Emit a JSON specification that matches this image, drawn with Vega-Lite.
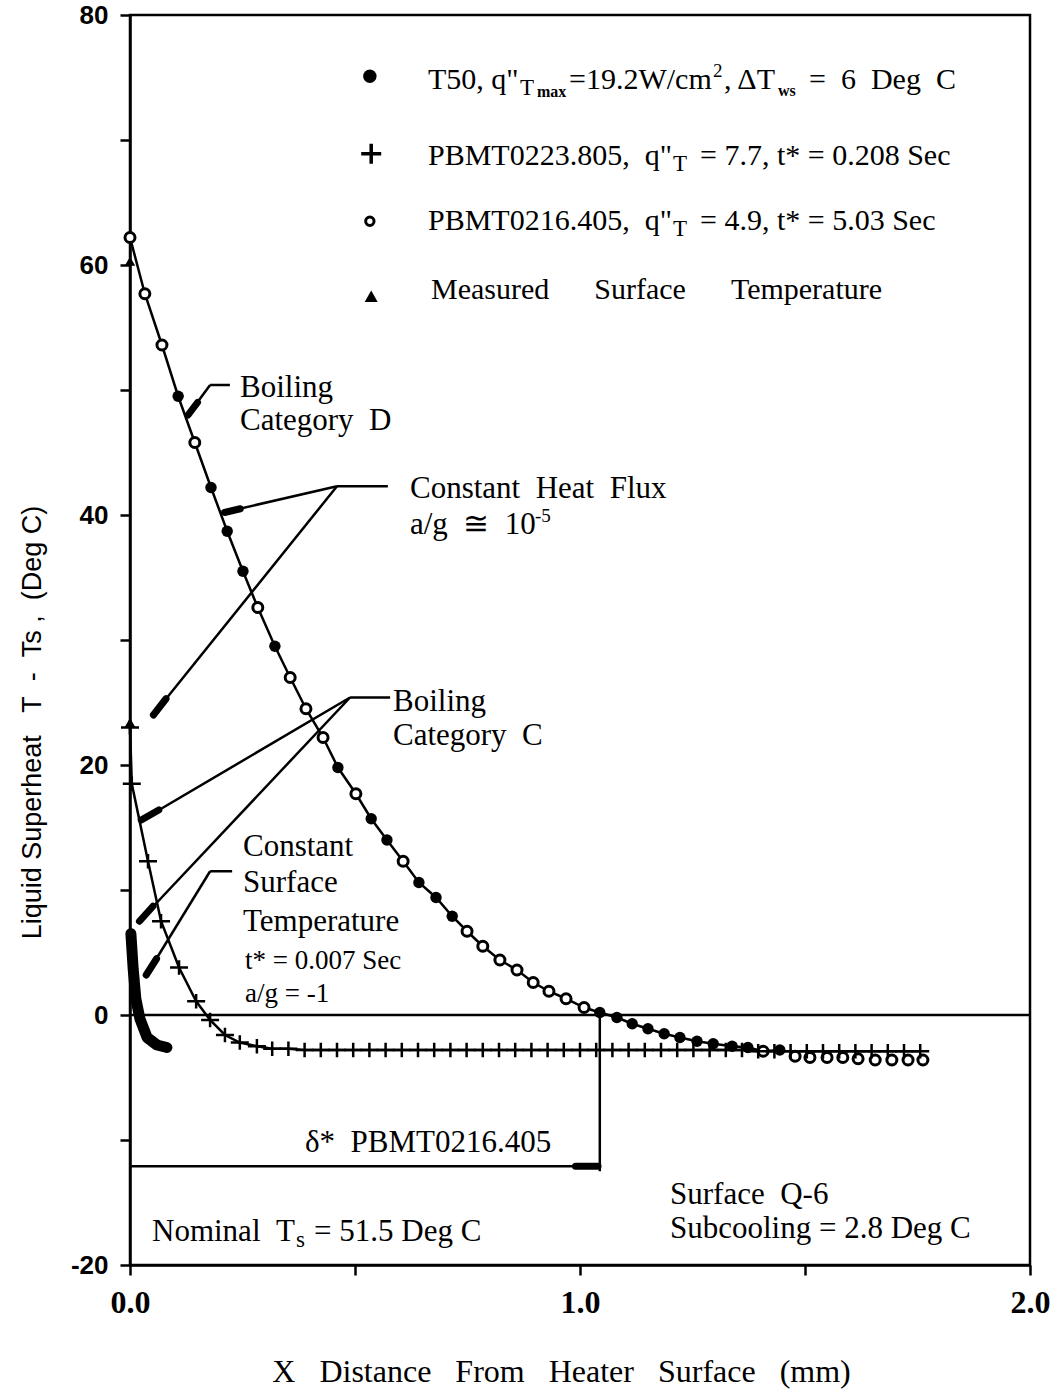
{
 "$schema": "https://vega.github.io/schema/vega-lite/v6.json",
 "width": 900,
 "height": 1250,
 "autosize": {"type": "none"},
 "padding": {"left": 130, "top": 15, "right": 25, "bottom": 126},
 "background": "white",
 "config": {
   "view": {"stroke": "black", "strokeWidth": 2.5},
   "axis": {"grid": false, "domainColor": "black", "domainWidth": 2.5, "tickColor": "black", "tickWidth": 2.5, "tickSize": 10, "labelColor": "black", "titleColor": "black"}
 },
 "datasets": {
   "leaders": [
     {"x":0,"y":0,"x2":2,"y2":0},
     {"x":0.222,"y":50.4,"x2":0.178,"y2":50.4},
     {"x":0.178,"y":50.4,"x2":0.127,"y2":47.9},
     {"x":0.573,"y":42.3,"x2":0.46,"y2":42.3},
     {"x":0.46,"y":42.3,"x2":0.207,"y2":40.2},
     {"x":0.46,"y":42.3,"x2":0.049,"y2":23.9},
     {"x":0.578,"y":25.4,"x2":0.489,"y2":25.4},
     {"x":0.489,"y":25.4,"x2":0.022,"y2":15.5},
     {"x":0.489,"y":25.4,"x2":0.018,"y2":7.4},
     {"x":0.227,"y":11.5,"x2":0.178,"y2":11.5},
     {"x":0.178,"y":11.5,"x2":0.033,"y2":3.0},
     {"x":0,"y":-12.1,"x2":1.044,"y2":-12.1},
     {"x":1.044,"y":0,"x2":1.044,"y2":-12.5}
   ],
   "arrowheads": [
     {"x":0.150,"y":49.0,"x2":0.129,"y2":48.0},
     {"x":0.245,"y":40.5,"x2":0.21,"y2":40.2},
     {"x":0.08,"y":25.3,"x2":0.052,"y2":24.0},
     {"x":0.064,"y":16.4,"x2":0.025,"y2":15.6},
     {"x":0.051,"y":8.7,"x2":0.021,"y2":7.5},
     {"x":0.059,"y":4.5,"x2":0.036,"y2":3.2},
     {"x":0.99,"y":-12.1,"x2":1.04,"y2":-12.1}
   ],
   "curve": [
     {"series":"P0216","x":0.0,"y":62.2},
     {"series":"P0216","x":0.033,"y":57.7},
     {"series":"P0216","x":0.071,"y":53.6},
     {"series":"T50","x":0.107,"y":49.5},
     {"series":"P0216","x":0.144,"y":45.8},
     {"series":"T50","x":0.18,"y":42.2},
     {"series":"T50","x":0.216,"y":38.7},
     {"series":"T50","x":0.251,"y":35.5},
     {"series":"P0216","x":0.284,"y":32.6},
     {"series":"T50","x":0.322,"y":29.5},
     {"series":"P0216","x":0.356,"y":27.0},
     {"series":"P0216","x":0.391,"y":24.5},
     {"series":"P0216","x":0.429,"y":22.2},
     {"series":"T50","x":0.462,"y":19.8},
     {"series":"P0216","x":0.502,"y":17.7},
     {"series":"T50","x":0.536,"y":15.7},
     {"series":"T50","x":0.571,"y":14.0},
     {"series":"P0216","x":0.607,"y":12.3},
     {"series":"T50","x":0.642,"y":10.6},
     {"series":"T50","x":0.68,"y":9.4},
     {"series":"T50","x":0.716,"y":7.9},
     {"series":"P0216","x":0.749,"y":6.7},
     {"series":"P0216","x":0.784,"y":5.5},
     {"series":"P0216","x":0.822,"y":4.4},
     {"series":"P0216","x":0.86,"y":3.6},
     {"series":"P0216","x":0.896,"y":2.6},
     {"series":"P0216","x":0.931,"y":1.9},
     {"series":"P0216","x":0.969,"y":1.3},
     {"series":"P0216","x":1.009,"y":0.6},
     {"series":"T50","x":1.044,"y":0.2},
     {"series":"T50","x":1.082,"y":-0.2},
     {"series":"T50","x":1.116,"y":-0.7},
     {"series":"T50","x":1.151,"y":-1.1},
     {"series":"T50","x":1.187,"y":-1.5},
     {"series":"T50","x":1.222,"y":-1.8},
     {"series":"T50","x":1.26,"y":-2.1},
     {"series":"T50","x":1.296,"y":-2.3},
     {"series":"T50","x":1.338,"y":-2.5},
     {"series":"T50","x":1.373,"y":-2.6},
     {"series":"P0216","x":1.407,"y":-2.9},
     {"series":"T50","x":1.444,"y":-2.8},
     {"series":"P0216","x":1.478,"y":-3.3},
     {"series":"P0216","x":1.511,"y":-3.4},
     {"series":"P0216","x":1.549,"y":-3.4},
     {"series":"P0216","x":1.584,"y":-3.4},
     {"series":"P0216","x":1.618,"y":-3.5},
     {"series":"P0216","x":1.656,"y":-3.6},
     {"series":"P0216","x":1.693,"y":-3.6},
     {"series":"P0216","x":1.729,"y":-3.6},
     {"series":"P0216","x":1.762,"y":-3.6}
   ],
   "plus": [
     {"x":0.0,"y":23.0},{"x":0.004,"y":18.5},{"x":0.04,"y":12.3},{"x":0.069,"y":7.5},
     {"x":0.109,"y":3.8},{"x":0.147,"y":1.1},{"x":0.178,"y":-0.4},{"x":0.211,"y":-1.6},
     {"x":0.244,"y":-2.2},{"x":0.282,"y":-2.5},{"x":0.316,"y":-2.7},{"x":0.352,"y":-2.7},
     {"x":0.388,"y":-2.8},{"x":0.424,"y":-2.8},{"x":0.46,"y":-2.8},{"x":0.496,"y":-2.8},
     {"x":0.532,"y":-2.8},{"x":0.568,"y":-2.8},{"x":0.604,"y":-2.8},{"x":0.64,"y":-2.8},
     {"x":0.676,"y":-2.8},{"x":0.712,"y":-2.8},{"x":0.748,"y":-2.8},{"x":0.784,"y":-2.8},
     {"x":0.82,"y":-2.8},{"x":0.856,"y":-2.8},{"x":0.892,"y":-2.8},{"x":0.928,"y":-2.8},
     {"x":0.964,"y":-2.8},{"x":1.0,"y":-2.8},{"x":1.036,"y":-2.8},{"x":1.072,"y":-2.8},
     {"x":1.108,"y":-2.8},{"x":1.144,"y":-2.8},{"x":1.18,"y":-2.8},{"x":1.216,"y":-2.8},
     {"x":1.252,"y":-2.8},{"x":1.288,"y":-2.8},{"x":1.324,"y":-2.8},{"x":1.36,"y":-2.8},
     {"x":1.396,"y":-2.9},{"x":1.432,"y":-2.9},{"x":1.468,"y":-2.9},{"x":1.504,"y":-2.9},
     {"x":1.54,"y":-2.9},{"x":1.576,"y":-2.9},{"x":1.612,"y":-2.9},{"x":1.648,"y":-2.9},
     {"x":1.684,"y":-2.9},{"x":1.72,"y":-2.9},{"x":1.756,"y":-2.9}
   ],
   "cst": [
     {"x":0.002,"y":6.5},{"x":0.007,"y":3.7},{"x":0.013,"y":1.3},{"x":0.022,"y":-0.3},
     {"x":0.038,"y":-1.8},{"x":0.06,"y":-2.4},{"x":0.082,"y":-2.6}
   ],
   "measured": [{"x":0.0,"y":60.3},{"x":0.0,"y":23.4}],
   "legend": [
     {"kind":"T50","x":0.533,"y":75.1},
     {"kind":"P0223","x":0.536,"y":68.9},
     {"kind":"P0216","x":0.533,"y":63.5},
     {"kind":"measured","x":0.536,"y":57.5}
   ],
   "txt31": [
     {"x":0.2444,"y":49.44,"text":"Boiling"},
     {"x":0.2444,"y":46.8,"text":"Category\u00a0\u00a0D"},
     {"x":0.6222,"y":41.36,"text":"Constant\u00a0\u00a0Heat\u00a0\u00a0Flux"},
     {"x":0.6222,"y":38.48,"text":"a/g\u00a0\u00a0≅\u00a0\u00a010"},
     {"x":0.5844,"y":24.32,"text":"Boiling"},
     {"x":0.5844,"y":21.6,"text":"Category\u00a0\u00a0C"},
     {"x":0.2511,"y":12.72,"text":"Constant"},
     {"x":0.2511,"y":9.84,"text":"Surface"},
     {"x":0.2511,"y":6.72,"text":"Temperature"},
     {"x":0.3889,"y":-10.96,"text":"δ*\u00a0\u00a0PBMT0216.405"},
     {"x":0.0489,"y":-18.08,"text":"Nominal\u00a0\u00a0T"},
     {"x":0.4089,"y":-18.08,"text":"= 51.5 Deg C"},
     {"x":1.2,"y":-15.12,"text":"Surface\u00a0\u00a0Q-6"},
     {"x":1.2,"y":-17.84,"text":"Subcooling = 2.8 Deg C"}
   ],
   "txt28": [
     {"x":0.2556,"y":3.68,"text":"t* = 0.007 Sec"},
     {"x":0.2556,"y":1.04,"text":"a/g = -1"}
   ],
   "legend30": [
     {"x":0.6622,"y":74.08,"text":"T50, q\""},
     {"x":0.9756,"y":74.08,"text":"=19.2W/cm"},
     {"x":1.32,"y":74.08,"text":", ΔT"},
     {"x":1.5089,"y":74.08,"text":"=\u00a0\u00a06\u00a0\u00a0Deg\u00a0\u00a0C"},
     {"x":0.6622,"y":68.0,"text":"PBMT0223.805,\u00a0\u00a0q\""},
     {"x":1.2667,"y":68.0,"text":"= 7.7, t* = 0.208 Sec"},
     {"x":0.6622,"y":62.8,"text":"PBMT0216.405,\u00a0\u00a0q\""},
     {"x":1.2667,"y":62.8,"text":"= 4.9, t* = 5.03 Sec"},
     {"x":0.6689,"y":57.28,"text":"Measured\u00a0\u00a0\u00a0\u00a0\u00a0\u00a0Surface\u00a0\u00a0\u00a0\u00a0\u00a0\u00a0Temperature"}
   ],
   "sub": [
     {"x":0.8667,"y":73.6,"text":"T"},
     {"x":1.2067,"y":67.52,"text":"T"},
     {"x":1.2067,"y":62.32,"text":"T"},
     {"x":0.3689,"y":-18.56,"text":"s"}
   ],
   "small": [
     {"x":0.9044,"y":73.44,"text":"max"},
     {"x":1.44,"y":73.52,"text":"ws"}
   ],
   "sup": [
     {"x":1.2956,"y":75.04,"text":"2"},
     {"x":0.9,"y":39.44,"text":"-5"}
   ]
 },
 "encoding": {
   "x": {"field": "x", "type": "quantitative", "scale": {"domain": [0, 2], "nice": false, "zero": false},
     "axis": {"values": [0, 0.5, 1, 1.5, 2], "labelExpr": "datum.value % 1 === 0 ? format(datum.value, '.1f') : ''",
       "labelFont": "Liberation Serif", "labelFontSize": 32, "labelFontWeight": "bold", "labelPadding": 12,
       "labelFlush": false, "labelOverlap": false,
       "title": "X\u00a0\u00a0\u00a0Distance\u00a0\u00a0\u00a0From\u00a0\u00a0\u00a0Heater\u00a0\u00a0\u00a0Surface\u00a0\u00a0\u00a0(mm)",
       "titleFont": "Liberation Serif", "titleFontSize": 32, "titleFontWeight": "normal", "titlePadding": 38, "titleX": 431}},
   "y": {"field": "y", "type": "quantitative", "scale": {"domain": [-20, 80], "nice": false, "zero": false},
     "axis": {"values": [-20, -10, 0, 10, 20, 30, 40, 50, 60, 70, 80], "labelExpr": "datum.value % 20 === 0 ? replace(datum.label, '\u2212', '-') : ''",
       "labelFont": "Liberation Sans", "labelFontSize": 26, "labelFontWeight": "bold", "labelPadding": 12, "labelOverlap": false,
       "title": "Liquid\u00a0Superheat\u00a0\u00a0\u00a0T\u00a0\u00a0-\u00a0\u00a0Ts\u00a0,\u00a0\u00a0(Deg\u00a0C)",
       "titleFont": "Liberation Sans", "titleFontSize": 27, "titleFontWeight": "normal", "titlePadding": 24, "titleY": 707}}
 },
 "layer": [
   {"data": {"name": "leaders"}, "mark": {"type": "rule", "color": "black", "strokeWidth": 2.5},
    "encoding": {"x2": {"field": "x2"}, "y2": {"field": "y2"}}},
   {"data": {"name": "arrowheads"}, "mark": {"type": "rule", "color": "black", "strokeWidth": 7, "strokeCap": "round"},
    "encoding": {"x2": {"field": "x2"}, "y2": {"field": "y2"}}},
   {"data": {"name": "curve"}, "transform": [{"filter": "datum.x <= 1.45"}],
    "mark": {"type": "line", "color": "black", "strokeWidth": 2.5}, "encoding": {}},
   {"data": {"name": "plus"}, "mark": {"type": "line", "color": "black", "strokeWidth": 2.5}, "encoding": {}},
   {"data": {"name": "cst"}, "mark": {"type": "line", "color": "black", "strokeWidth": 11, "strokeCap": "round", "strokeJoin": "round"}, "encoding": {}},
   {"data": {"name": "curve"}, "transform": [{"filter": "datum.series === 'T50'"}],
    "mark": {"type": "point", "shape": "circle", "filled": true, "color": "black", "size": 130, "opacity": 1}, "encoding": {}},
   {"data": {"name": "curve"}, "transform": [{"filter": "datum.series === 'P0216'"}],
    "mark": {"type": "point", "shape": "circle", "filled": true, "fill": "white", "stroke": "black", "strokeWidth": 3, "size": 100, "opacity": 1}, "encoding": {}},
   {"data": {"name": "plus"}, "mark": {"type": "point", "shape": "M-1,0H1M0,-0.8V0.8", "filled": false, "stroke": "black", "strokeWidth": 2.5, "size": 324, "opacity": 1}, "encoding": {}},
   {"data": {"name": "measured"}, "mark": {"type": "point", "shape": "triangle-up", "filled": true, "color": "black", "size": 110, "opacity": 1}, "encoding": {}},
   {"data": {"name": "legend"}, "transform": [{"filter": "datum.kind === 'T50'"}],
    "mark": {"type": "point", "shape": "circle", "filled": true, "color": "black", "size": 180, "opacity": 1}, "encoding": {}},
   {"data": {"name": "legend"}, "transform": [{"filter": "datum.kind === 'P0223'"}],
    "mark": {"type": "point", "shape": "M-1,0H1M0,-1V1", "filled": false, "stroke": "black", "strokeWidth": 3.5, "size": 400, "opacity": 1}, "encoding": {}},
   {"data": {"name": "legend"}, "transform": [{"filter": "datum.kind === 'P0216'"}],
    "mark": {"type": "point", "shape": "circle", "filled": true, "fill": "white", "stroke": "black", "strokeWidth": 3, "size": 70, "opacity": 1}, "encoding": {}},
   {"data": {"name": "legend"}, "transform": [{"filter": "datum.kind === 'measured'"}],
    "mark": {"type": "point", "shape": "triangle-up", "filled": true, "color": "black", "size": 170, "opacity": 1}, "encoding": {}},
   {"data": {"name": "txt31"}, "mark": {"type": "text", "font": "Liberation Serif", "fontSize": 31, "align": "left", "baseline": "alphabetic", "color": "black"},
    "encoding": {"text": {"field": "text"}}},
   {"data": {"name": "txt28"}, "mark": {"type": "text", "font": "Liberation Serif", "fontSize": 27, "align": "left", "baseline": "alphabetic", "color": "black"},
    "encoding": {"text": {"field": "text"}}},
   {"data": {"name": "legend30"}, "mark": {"type": "text", "font": "Liberation Serif", "fontSize": 30, "align": "left", "baseline": "alphabetic", "color": "black"},
    "encoding": {"text": {"field": "text"}}},
   {"data": {"name": "sub"}, "mark": {"type": "text", "font": "Liberation Serif", "fontSize": 23, "align": "left", "baseline": "alphabetic", "color": "black"},
    "encoding": {"text": {"field": "text"}}},
   {"data": {"name": "small"}, "mark": {"type": "text", "font": "Liberation Serif", "fontSize": 16, "fontWeight": "bold", "align": "left", "baseline": "alphabetic", "color": "black"},
    "encoding": {"text": {"field": "text"}}},
   {"data": {"name": "sup"}, "mark": {"type": "text", "font": "Liberation Serif", "fontSize": 19, "align": "left", "baseline": "alphabetic", "color": "black"},
    "encoding": {"text": {"field": "text"}}}
 ]
}
